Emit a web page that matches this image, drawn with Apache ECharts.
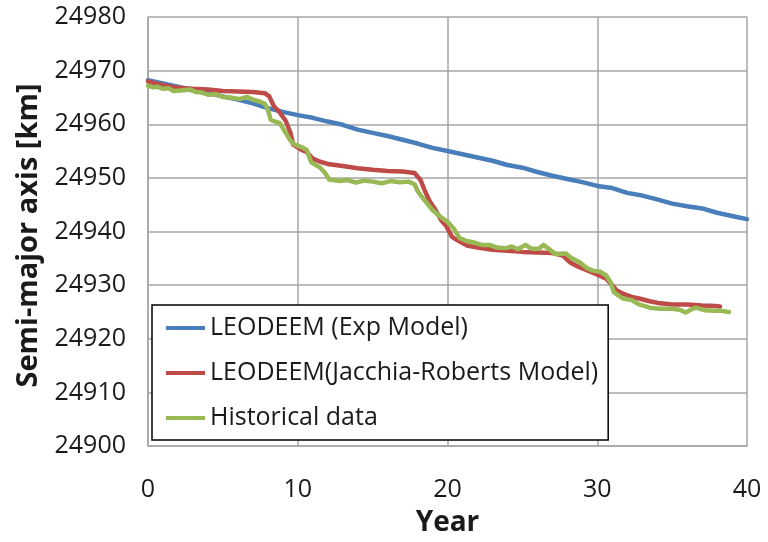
<!DOCTYPE html>
<html>
<head>
<meta charset="utf-8">
<script src="https://cdn.jsdelivr.net/npm/echarts@6/dist/echarts.min.js"></script>
<style>
  html, body { margin: 0; padding: 0; background: #fff; }
  #chart { width: 768px; height: 542px; }
</style>
</head>
<body>
<div id="chart"></div>
<script>
// Semi-major axis decay: two LEODEEM model runs against historical orbit data
const seriesNames = ['LEODEEM (Exp Model)', 'LEODEEM(Jacchia-Roberts Model)', 'Historical data'];
const seriesColors = ['#4A7EBB', '#BE4B48', '#98B954'];

const yTicks = [24900, 24910, 24920, 24930, 24940, 24950, 24960, 24970, 24980];
const xTicks = [0, 10, 20, 30, 40];

const expYears = [0,1,2,3,4,5,6,7,8,9,10,11,12,13,14,15,16,17,18,19,20,21,22,23,24,25,26,27,28,29,30,31,32,33,34,35,36,37,38,39,40];
const expValues = [24968.2,24967.6,24967.0,24966.3,24965.8,24965.2,24964.6,24963.9,24963.0,24962.3,24961.7,24961.2,24960.5,24959.9,24959.0,24958.4,24957.8,24957.1,24956.4,24955.6,24955.0,24954.4,24953.8,24953.2,24952.4,24951.9,24951.1,24950.4,24949.8,24949.2,24948.5,24948.1,24947.2,24946.7,24946.0,24945.2,24944.7,24944.3,24943.5,24942.9,24942.3];

const jrYears = [0,0.5,1,1.5,2,3,4,5,6,7,7.8,8.1,8.4,8.8,9.2,9.5,9.7,10.2,10.6,11.0,11.5,12,13,14,15,16,17,17.8,18.2,18.5,18.8,19.2,19.6,19.9,20.3,20.7,21.3,22,23,24,25,26,27,27.7,28.2,28.6,29.3,29.9,30.6,31.0,31.3,31.8,32.3,32.8,33.5,34.2,35,36,37,37.9,38.2];
const jrValues = [24968.0,24967.6,24967.3,24967.0,24966.8,24966.6,24966.5,24966.2,24966.1,24966.0,24965.8,24965.2,24963.4,24962.2,24960.6,24958.5,24956.2,24955.3,24954.8,24953.6,24953.0,24952.6,24952.2,24951.8,24951.5,24951.3,24951.2,24950.9,24949.6,24947.5,24945.7,24944.0,24942.0,24941.1,24939.0,24938.3,24937.4,24937.0,24936.6,24936.4,24936.2,24936.1,24936.0,24935.5,24934.2,24933.6,24932.8,24932.1,24931.2,24930.0,24929.0,24928.3,24927.8,24927.5,24927.0,24926.6,24926.4,24926.4,24926.2,24926.1,24926.0];

const histYears = [0,0.3,0.6,1.0,1.4,1.7,2.2,2.8,3.2,3.6,4.0,4.5,5.0,5.5,6.1,6.6,7.0,7.5,7.8,8.0,8.2,8.5,8.8,9.2,9.5,9.8,10.3,10.6,10.9,11.5,11.8,12.1,12.8,13.3,13.9,14.4,15.0,15.6,16.2,16.8,17.4,17.8,18.0,18.3,18.6,19.0,19.5,20.0,20.4,20.8,21.2,21.7,22.3,22.8,23.3,23.9,24.3,24.7,25.2,25.6,26.1,26.4,26.7,27.2,27.9,28.3,28.8,29.3,29.7,30.2,30.6,30.9,31.1,31.7,32.3,32.8,33.5,34.2,35.0,35.5,35.9,36.3,36.6,37.2,37.8,38.3,38.8];
const histValues = [24967.2,24966.9,24967.0,24966.6,24966.7,24966.2,24966.3,24966.5,24966.0,24965.9,24965.5,24965.6,24965.1,24965.0,24964.7,24965.1,24964.6,24964.2,24963.8,24962.8,24960.8,24960.5,24960.2,24958.4,24957.0,24956.2,24955.7,24955.2,24952.9,24951.9,24951.0,24949.7,24949.4,24949.6,24949.1,24949.5,24949.3,24949.0,24949.4,24949.2,24949.3,24948.8,24947.6,24946.4,24945.4,24944.0,24942.8,24941.8,24940.6,24938.8,24938.3,24938.0,24937.5,24937.5,24937.0,24936.9,24937.2,24936.7,24937.5,24936.8,24936.8,24937.5,24936.9,24935.8,24935.9,24935.0,24934.3,24933.2,24932.7,24932.5,24931.8,24930.5,24928.7,24927.5,24927.2,24926.4,24925.8,24925.6,24925.6,24925.4,24924.9,24925.5,24925.8,24925.3,24925.2,24925.2,24925.0];

const pairs = (xs, ys) => xs.map((x, i) => [x, ys[i]]);
const seriesData = [pairs(expYears, expValues), pairs(jrYears, jrValues), pairs(histYears, histValues)];

const FONT = '"Open Sans", "Liberation Sans", sans-serif';
const GRID_COLOR = '#A6A6A6';

const chart = echarts.init(document.getElementById('chart'), null, { renderer: 'canvas' });

chart.setOption({
  animation: false,
  backgroundColor: '#fff',
  textStyle: { fontFamily: FONT, color: '#1a1a1a' },
  grid: { left: 148, right: 21, top: 17, bottom: 93, containLabel: false },
  xAxis: {
    type: 'value',
    min: xTicks[0],
    max: xTicks[xTicks.length - 1],
    interval: 10,
    name: 'Year',
    nameLocation: 'middle',
    nameGap: 63,
    nameTextStyle: { fontFamily: FONT, fontSize: 28, fontWeight: 'bold', color: '#1a1a1a' },
    axisLine: { show: true, lineStyle: { color: GRID_COLOR, width: 1.5 } },
    axisTick: { show: false },
    axisLabel: { margin: 31, fontSize: 25, fontFamily: FONT, color: '#1a1a1a' },
    splitLine: { show: true, lineStyle: { color: GRID_COLOR, width: 1.5 } }
  },
  yAxis: {
    type: 'value',
    min: yTicks[0],
    max: yTicks[yTicks.length - 1],
    interval: 10,
    name: 'Semi-major axis [km]',
    nameLocation: 'middle',
    nameGap: 103,
    nameTextStyle: { fontFamily: FONT, fontSize: 29, fontWeight: 'bold', color: '#1a1a1a', padding: [0, 8, 0, 0] },
    axisLine: { show: true, lineStyle: { color: GRID_COLOR, width: 1.5 } },
    axisTick: { show: false },
    axisLabel: { margin: 22, fontSize: 25, fontFamily: FONT, color: '#1a1a1a', formatter: v => String(v) },
    splitLine: { show: true, lineStyle: { color: GRID_COLOR, width: 1.5 } }
  },
  legend: {
    orient: 'vertical',
    left: 152,
    top: 305,
    padding: [8, 10, 7, 14],
    itemGap: 15,
    itemWidth: 39,
    itemHeight: 4,
    icon: 'rect',
    backgroundColor: '#fff',
    borderColor: '#000',
    borderWidth: 1.5,
    borderRadius: 0,
    textStyle: { fontFamily: FONT, fontSize: 25, color: '#1a1a1a', lineHeight: 30 },
    data: seriesNames
  },
  series: seriesNames.map((name, i) => ({
    name,
    type: 'line',
    data: seriesData[i],
    showSymbol: false,
    symbol: 'none',
    smooth: false,
    lineStyle: { color: seriesColors[i], width: 4.5, join: 'round', cap: 'round' },
    itemStyle: { color: seriesColors[i] },
    z: 2 + i
  }))
});
</script>
</body>
</html>
